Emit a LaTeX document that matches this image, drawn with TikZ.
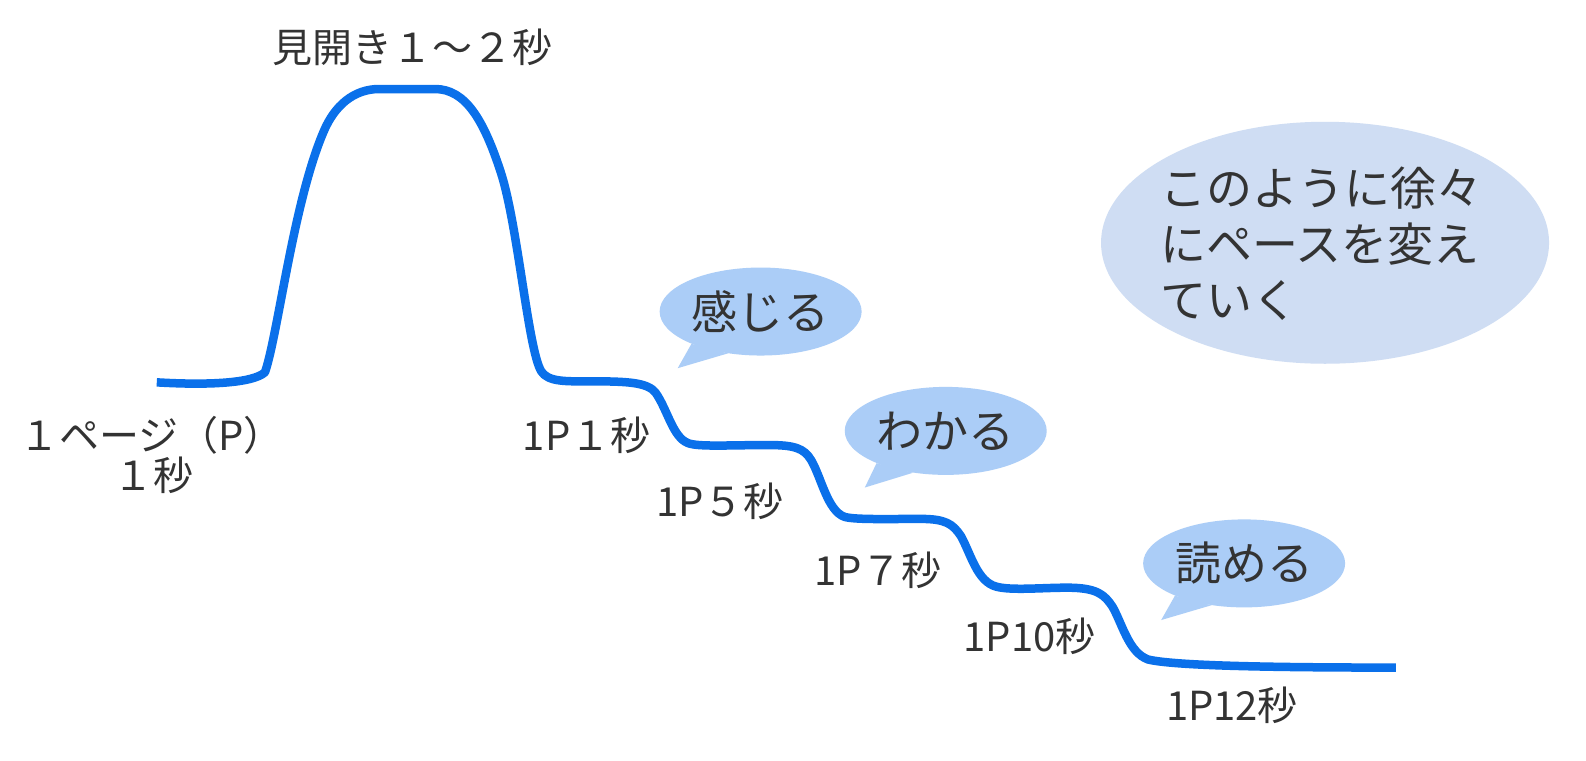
\documentclass[tikz,border=0pt]{standalone}
\usepackage{fontspec}
\setmainfont{Noto Sans CJK JP}
\usetikzlibrary{shapes.geometric}
\definecolor{curveblue}{HTML}{0A70EA}
\definecolor{bubbleblue}{HTML}{ABCDF7}
\definecolor{bigblue}{HTML}{CFDDF3}
\definecolor{ink}{HTML}{333333}
\begin{document}
\begin{tikzpicture}[x=1.0115pt,y=-1.0115pt,
  lbl/.style={text=ink, font=\fontsize{40}{48}\selectfont, inner sep=0pt},
  bub/.style={ellipse, fill=bubbleblue, inner sep=0pt, minimum width=202pt, minimum height=88pt, text=ink, font=\fontsize{46}{54}\selectfont},
  tailfill/.style={fill=bubbleblue},
  pace/.style={draw=curveblue, line width=8.5pt, line join=round}]
\useasboundingbox (0,0) rectangle (1568,752);
\fill[white] (0,0) rectangle (1568,752);

% big note
\node[ellipse, fill=bigblue, minimum width=448pt, minimum height=242pt, inner sep=0pt] (big) at (1310,240) {};
\node[text=ink, font=\fontsize{46}{56}\selectfont, align=left, inner sep=0pt] (bigtext) at (1306,241)
  {このように徐々\\にペースを変え\\ていく};

% bubbles
\node[bub] (b1) at (752,308) {感じる};
\coordinate (t1) at (670,364);
\fill[tailfill] (b1.205) -- (t1) -- (b1.232) -- cycle;

\node[bub] (b2) at (935,426) {わかる};
\coordinate (t2) at (855,482);
\fill[tailfill] (b2.205) -- (t2) -- (b2.232) -- cycle;

\node[bub] (b3) at (1230,557) {読める};
\coordinate (t3) at (1148,613);
\fill[tailfill] (b3.205) -- (t3) -- (b3.232) -- cycle;

% pace curve
\draw[pace] (155,378)
 .. controls (205,381) and (250,379) .. (262,368)
 .. controls (275,330) and (290,200) .. (320,130)
 .. controls (331,104) and (350,88) .. (375,88)
 -- (430,88)
 .. controls (460,88) and (478,118) .. (495,170)
 .. controls (512,222) and (522,345) .. (535,367)
 .. controls (542,378) and (560,377) .. (585,377)
 .. controls (620,377) and (640,378) .. (648,388)
 .. controls (660,405) and (665,432) .. (680,438)
 .. controls (690,442) and (720,440) .. (760,440)
 .. controls (785,440) and (795,443) .. (802,455)
 .. controls (812,472) and (818,505) .. (835,511)
 .. controls (845,514) and (880,513) .. (910,513)
 .. controls (935,513) and (942,518) .. (950,530)
 .. controls (960,548) and (966,575) .. (985,580)
 .. controls (1000,584) and (1030,581) .. (1055,581)
 .. controls (1085,581) and (1092,588) .. (1100,600)
 .. controls (1110,618) and (1116,645) .. (1135,652)
 .. controls (1160,658) and (1250,660) .. (1380,660);

% labels
\node[lbl] (top) at (408,47) {見開き１〜２秒};
\node[lbl] (p0a) at (150,430) {１ページ（P）};
\node[lbl] (p0b) at (152,470) {１秒};
\node[lbl] (p1) at (580,430) {1P１秒};
\node[lbl] (p5) at (712,496) {1P５秒};
\node[lbl] (p7) at (868,564) {1P７秒};
\node[lbl] (p10) at (1018,629) {1P10秒};
\node[lbl] (p12) at (1218,697) {1P12秒};
\end{tikzpicture}
\end{document}
